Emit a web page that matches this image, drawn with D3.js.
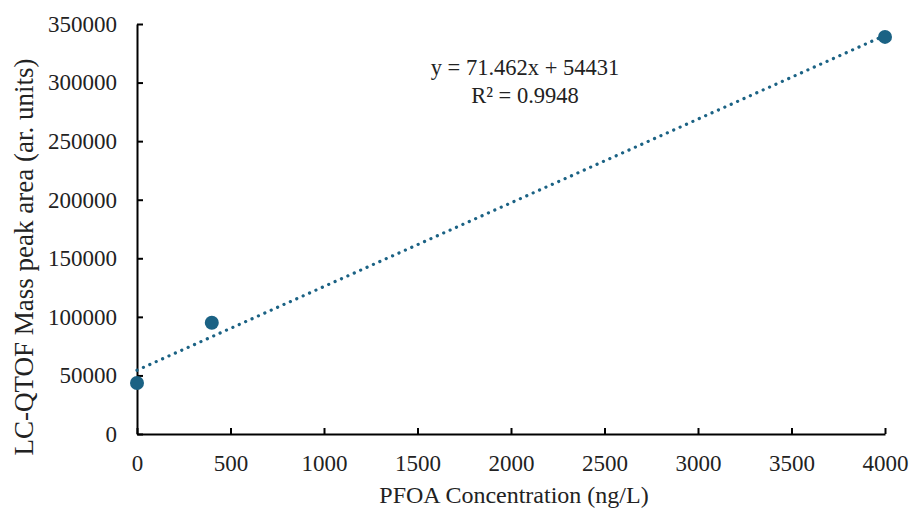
<!DOCTYPE html>
<html>
<head>
<meta charset="utf-8">
<script src="https://cdn.jsdelivr.net/npm/d3@7"></script>
<style>
  body { margin: 0; background: #fff; }
  svg text { font-family: "Liberation Serif", "Times New Roman", serif; fill: #222; }
</style>
</head>
<body>
<div id="chart"></div>
<script>
// data
var concentrations = [0, 400, 4000];
var peakAreas = [43500, 95000, 339000];
var xTicks = [0, 500, 1000, 1500, 2000, 2500, 3000, 3500, 4000];
var yTicks = [0, 50000, 100000, 150000, 200000, 250000, 300000, 350000];
var trendSlope = 71.462, trendIntercept = 54431;
var trendLabels = ["y = 71.462x + 54431", "R² = 0.9948"];

var margin = {top: 24, right: 26, bottom: 77, left: 137},
    width = 911 - margin.left - margin.right,
    height = 511 - margin.top - margin.bottom;

var svg = d3.select("#chart")
  .append("svg")
    .attr("width", 911)
    .attr("height", 511)
  .append("g")
    .attr("transform", "translate(" + margin.left + "," + margin.top + ")");

var x = d3.scaleLinear().domain([0, 4000]).range([0, width]);
var y = d3.scaleLinear().domain([0, 350000]).range([height, 0]);

var color = "#1b6284";

function styleAxis(g) {
  g.attr("font-family", "Liberation Serif").attr("font-size", 23);
  g.select(".domain").attr("stroke", "#000").attr("stroke-width", 2);
  g.selectAll(".tick line").attr("stroke", "#000").attr("stroke-width", 2);
  g.selectAll("text").attr("fill", "#222");
}

// X axis (ticks point inward)
svg.append("g")
  .attr("transform", "translate(0," + height + ")")
  .call(d3.axisBottom(x).tickValues(xTicks).tickFormat(d3.format("d")).tickSizeInner(-6).tickSizeOuter(0).tickPadding(21))
  .call(styleAxis);

// Y axis
svg.append("g")
  .call(d3.axisLeft(y).tickValues(yTicks).tickFormat(d3.format("d")).tickSizeInner(-6).tickSizeOuter(0).tickPadding(20))
  .call(styleAxis);

// Trendline (dotted)
var trend = [0, 4000].map(function(c) { return {x: c, y: trendSlope * c + trendIntercept}; });
svg.append("path")
  .datum(trend)
  .attr("fill", "none")
  .attr("stroke", color)
  .attr("stroke-width", 3.2)
  .attr("stroke-linecap", "round")
  .attr("stroke-dasharray", "0.1,6.9")
  .attr("d", d3.line()
    .x(function(d) { return x(d.x); })
    .y(function(d) { return y(d.y); }));

// Points
svg.selectAll("points")
  .data(concentrations)
  .enter()
  .append("circle")
    .attr("cx", function(d) { return x(d); })
    .attr("cy", function(d, i) { return y(peakAreas[i]); })
    .attr("r", 7)
    .attr("fill", color);

// Equation
svg.selectAll(".eq")
  .data(trendLabels)
  .enter()
  .append("text")
    .attr("class", "eq")
    .attr("x", 388)
    .attr("y", function(d, i) { return 51 + i * 28; })
    .attr("text-anchor", "middle")
    .style("font-size", "22.5px")
    .text(function(d) { return d; });

// Axis titles
svg.append("text")
  .attr("x", width / 2 + 3)
  .attr("y", height + 69)
  .attr("text-anchor", "middle")
  .style("font-size", "24px")
  .text("PFOA Concentration (ng/L)");

svg.append("text")
  .attr("transform", "rotate(-90)")
  .attr("x", -(height / 2) - 28)
  .attr("y", -104)
  .attr("text-anchor", "middle")
  .style("font-size", "27px")
  .text("LC-QTOF Mass peak area (ar. units)");
</script>
</body>
</html>
